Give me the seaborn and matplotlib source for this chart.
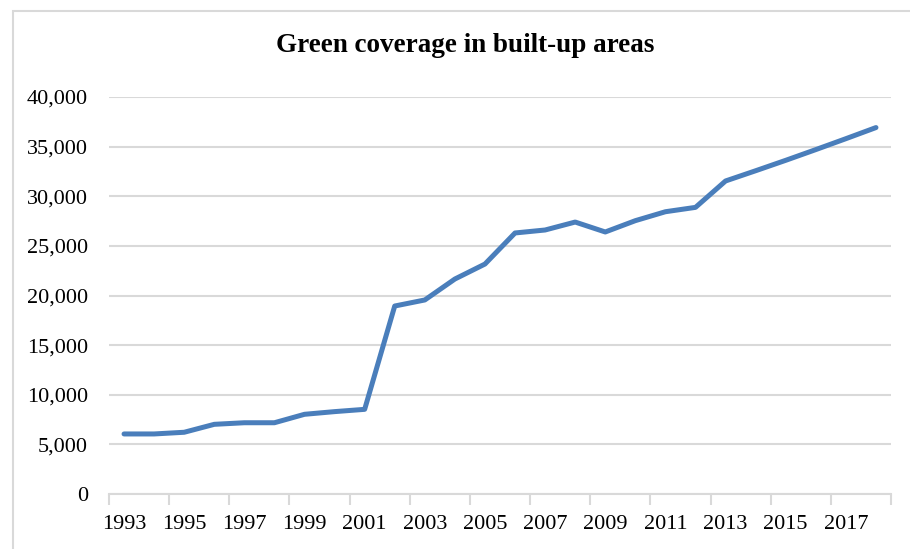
import matplotlib
matplotlib.use("Agg")
import matplotlib.pyplot as plt
import seaborn as sns
import pandas as pd
from matplotlib.patches import Rectangle

years = list(range(1993, 2019))
values = [6050, 6050, 6220, 7020, 7180, 7180, 8030, 8300, 8530,
          18940, 19550, 21660, 23170, 26300, 26600, 27400, 26400, 27540,
          28440, 28880, 31540, 32570, 33620, 34700, 35800, 36920]
title = "Green coverage in built-up areas"
ytick_vals = list(range(0, 40001, 5000))
xtick_years = list(range(1993, 2018, 2))

df = pd.DataFrame({"year": years, "value": values})

sns.set_style("white")
plt.rcParams['font.family'] = ['Liberation Serif', 'DejaVu Serif']

fig = plt.figure(figsize=(9.1, 5.49), dpi=100)
ax = fig.add_axes([109/910, 55/549, (891-109)/910, (494-97)/549])

# outer chart frame
fig.patches.append(Rectangle((13/910, -0.1), 1.2, (538/549) + 0.1,
                             transform=fig.transFigure, fill=False,
                             edgecolor="#d9d9d9", linewidth=1.5))

sns.lineplot(data=df, x="year", y="value", ax=ax, color="#4a7ebb",
             linewidth=3.6, solid_joinstyle="round", solid_capstyle="round")

ax.set_xlim(1992.5, 2018.5)
ax.set_ylim(0, 40000)
ax.set_yticks(ytick_vals)
ax.set_yticklabels([f"{v:,}" for v in ytick_vals])
ax.set_xticks(xtick_years)
ax.set_xticklabels([str(y) for y in xtick_years])
ax.set_xticks([y - 0.5 for y in range(1993, 2020, 2)], minor=True)
ax.tick_params(axis="x", which="major", bottom=True, length=0, pad=15,
               labelsize=16, colors="black")
ax.tick_params(axis="x", which="minor", bottom=True, length=8, width=1.5,
               color="#d9d9d9", direction="out")
ax.tick_params(axis="y", left=False, length=0, pad=15, labelsize=16, colors="black")

ax.grid(axis="y", color="#d9d9d9", linewidth=1.5)
ax.grid(axis="x", visible=False)
ax.set_axisbelow(True)
for s in ["top", "right", "left"]:
    ax.spines[s].set_visible(False)
ax.spines["bottom"].set_color("#d9d9d9")
ax.spines["bottom"].set_linewidth(1.5)
ax.set_xlabel("")
ax.set_ylabel("")

fig.text(465/910, 1 - 45/549, title, ha="center", va="center",
         fontsize=19.5, fontweight="bold", color="black")

fig.savefig("out.png", dpi=100)
